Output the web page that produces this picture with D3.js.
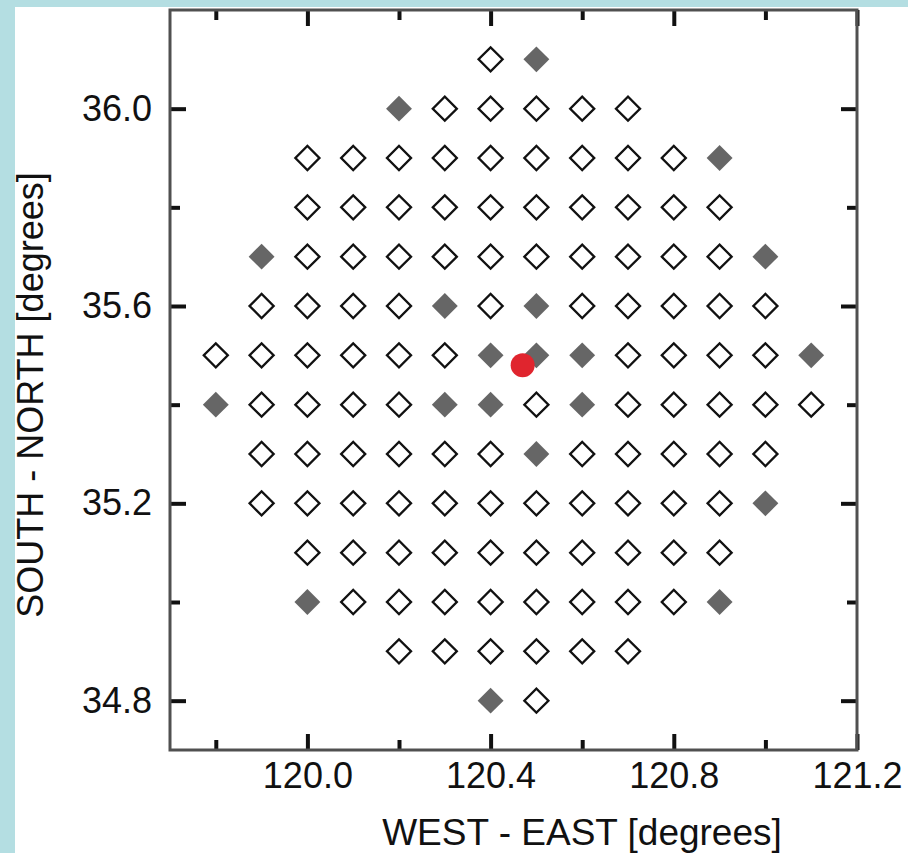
<!DOCTYPE html>
<html>
<head>
<meta charset="utf-8">
<script src="https://cdn.jsdelivr.net/npm/d3@7"></script>
<style>
  body { margin: 0; background: #fff; }
  text { font-family: "Liberation Sans", Arial, sans-serif; fill: #111; }
</style>
</head>
<body>
<div id="chart"></div>
<script>
// grid rows (latitude) and the stations on each row (longitude)
var rowLat = [36.1, 36.0, 35.9, 35.8, 35.7, 35.6, 35.5, 35.4, 35.3, 35.2, 35.1, 35.0, 34.9, 34.8];

var openLon = [
  [120.4],
  [120.3, 120.4, 120.5, 120.6, 120.7],
  [120.0, 120.1, 120.2, 120.3, 120.4, 120.5, 120.6, 120.7, 120.8],
  [120.0, 120.1, 120.2, 120.3, 120.4, 120.5, 120.6, 120.7, 120.8, 120.9],
  [120.0, 120.1, 120.2, 120.3, 120.4, 120.5, 120.6, 120.7, 120.8, 120.9],
  [119.9, 120.0, 120.1, 120.2, 120.4, 120.6, 120.7, 120.8, 120.9, 121.0],
  [119.8, 119.9, 120.0, 120.1, 120.2, 120.3, 120.7, 120.8, 120.9, 121.0],
  [119.9, 120.0, 120.1, 120.2, 120.5, 120.7, 120.8, 120.9, 121.0, 121.1],
  [119.9, 120.0, 120.1, 120.2, 120.3, 120.4, 120.6, 120.7, 120.8, 120.9, 121.0],
  [119.9, 120.0, 120.1, 120.2, 120.3, 120.4, 120.5, 120.6, 120.7, 120.8, 120.9],
  [120.0, 120.1, 120.2, 120.3, 120.4, 120.5, 120.6, 120.7, 120.8, 120.9],
  [120.1, 120.2, 120.3, 120.4, 120.5, 120.6, 120.7, 120.8],
  [120.2, 120.3, 120.4, 120.5, 120.6, 120.7],
  [120.5]
];

var filledLon = [
  [120.5],
  [120.2],
  [120.9],
  [],
  [119.9, 121.0],
  [120.3, 120.5],
  [120.4, 120.5, 120.6, 121.1],
  [119.8, 120.3, 120.4, 120.6],
  [120.5],
  [121.0],
  [],
  [120.0, 120.9],
  [],
  [120.4]
];

// epicentre
var epicenter = [120.47, 35.48];

var xMajor = [120.0, 120.4, 120.8, 121.2];
var xMinor = [119.8, 120.2, 120.6, 121.0];
var yMajor = [34.8, 35.2, 35.6, 36.0];
var yMinor = [35.0, 35.4, 35.8];

var W = 908, H = 853;
var plotL = 170, plotR = 857, plotT = 10, plotB = 750;

var svg = d3.select("#chart").append("svg")
  .attr("width", W)
  .attr("height", H);

// light blue strips at the edge of the picture
svg.append("rect").attr("x", 0).attr("y", 0).attr("width", W).attr("height", 7).attr("fill", "#b4dee2");
svg.append("rect").attr("x", 0).attr("y", 0).attr("width", 15).attr("height", H).attr("fill", "#b4dee2");

var x = d3.scaleLinear().domain([119.7, 121.2]).range([plotL, plotR]);
var y = d3.scaleLinear().domain([34.7, 36.2]).range([plotB, plotT]);

function flatten(lists) {
  var pts = [];
  lists.forEach(function(row, i) {
    row.forEach(function(lon) { pts.push({lon: lon, lat: rowLat[i]}); });
  });
  return pts;
}

var fmt = d3.format(".1f");

function styleAxis(g) {
  g.select(".domain").remove();
  g.selectAll(".tick line").attr("stroke", "#111").attr("stroke-width", 4);
  g.selectAll(".tick text").style("font-size", "36px").attr("fill", "#111");
}

// bottom
svg.append("g").attr("transform", "translate(0," + plotB + ")")
  .call(d3.axisBottom(x).tickValues(xMajor).tickSize(-16).tickPadding(12).tickFormat(fmt))
  .call(styleAxis);
svg.append("g").attr("transform", "translate(0," + plotB + ")")
  .call(d3.axisBottom(x).tickValues(xMinor).tickSize(-10).tickFormat(""))
  .call(styleAxis);
// top
svg.append("g").attr("transform", "translate(0," + plotT + ")")
  .call(d3.axisTop(x).tickValues(xMajor).tickSize(-16).tickFormat(""))
  .call(styleAxis);
svg.append("g").attr("transform", "translate(0," + plotT + ")")
  .call(d3.axisTop(x).tickValues(xMinor).tickSize(-10).tickFormat(""))
  .call(styleAxis);
// left
svg.append("g").attr("transform", "translate(" + plotL + ",0)")
  .call(d3.axisLeft(y).tickValues(yMajor).tickSize(-16).tickPadding(18).tickFormat(fmt))
  .call(styleAxis);
svg.append("g").attr("transform", "translate(" + plotL + ",0)")
  .call(d3.axisLeft(y).tickValues(yMinor).tickSize(-10).tickFormat(""))
  .call(styleAxis);
// right
svg.append("g").attr("transform", "translate(" + plotR + ",0)")
  .call(d3.axisRight(y).tickValues(yMajor).tickSize(-16).tickFormat(""))
  .call(styleAxis);
svg.append("g").attr("transform", "translate(" + plotR + ",0)")
  .call(d3.axisRight(y).tickValues(yMinor).tickSize(-10).tickFormat(""))
  .call(styleAxis);

// frame
svg.append("rect")
  .attr("x", plotL).attr("y", plotT)
  .attr("width", plotR - plotL).attr("height", plotB - plotT)
  .attr("fill", "none")
  .attr("stroke", "#505050")
  .attr("stroke-width", 3);

var openSym = d3.symbol().type(d3.symbolSquare).size(290);
var fillSym = d3.symbol().type(d3.symbolSquare).size(335);

svg.append("g").selectAll("path")
  .data(flatten(openLon))
  .join("path")
  .attr("d", openSym)
  .attr("transform", function(d) { return "translate(" + x(d.lon) + "," + y(d.lat) + ") rotate(45)"; })
  .attr("fill", "#fff")
  .attr("stroke", "#111")
  .attr("stroke-width", 2.3);

svg.append("g").selectAll("path")
  .data(flatten(filledLon))
  .join("path")
  .attr("d", fillSym)
  .attr("transform", function(d) { return "translate(" + x(d.lon) + "," + y(d.lat) + ") rotate(45)"; })
  .attr("fill", "#666");

svg.append("circle")
  .attr("cx", x(epicenter[0]))
  .attr("cy", y(epicenter[1]))
  .attr("r", 12)
  .attr("fill", "#e0252e");

// axis titles
svg.append("text")
  .attr("x", 582)
  .attr("y", 845)
  .attr("text-anchor", "middle")
  .style("font-size", "37px")
  .text("WEST - EAST [degrees]");

svg.append("text")
  .attr("transform", "translate(43,395) rotate(-90)")
  .attr("text-anchor", "middle")
  .style("font-size", "36px")
  .text("SOUTH - NORTH [degrees]");
</script>
</body>
</html>
